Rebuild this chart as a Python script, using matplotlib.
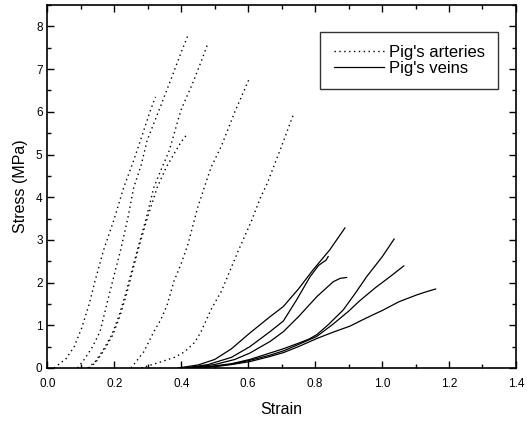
import matplotlib
matplotlib.use("Agg")
import matplotlib.pyplot as plt
from matplotlib.ticker import MultipleLocator

plt.rcParams['font.family'] = ['Liberation Sans', 'DejaVu Sans']

# Pig's arteries (dotted curves)
a1_strain = [0.02, 0.056, 0.08, 0.102, 0.125, 0.142, 0.167, 0.2, 0.228, 0.255, 0.278, 0.308, 0.323]
a1_stress = [0.0, 0.22, 0.5, 0.93, 1.5, 2.03, 2.74, 3.5, 4.23, 4.8, 5.33, 6.04, 6.35]
a2_strain = [0.09, 0.112, 0.135, 0.157, 0.192, 0.218, 0.24, 0.258, 0.28, 0.298, 0.338, 0.374, 0.40, 0.419]
a2_stress = [0.0, 0.22, 0.5, 0.85, 1.95, 2.74, 3.5, 4.23, 4.75, 5.33, 6.13, 6.86, 7.4, 7.77]
a3_strain = [0.12, 0.142, 0.165, 0.192, 0.213, 0.233, 0.268, 0.295, 0.318, 0.34, 0.364, 0.399, 0.434, 0.458, 0.479]
a3_stress = [0.0, 0.14, 0.4, 0.77, 1.2, 1.72, 2.74, 3.5, 4.23, 4.65, 5.09, 6.04, 6.67, 7.15, 7.59]
a4_strain = [0.125, 0.145, 0.168, 0.195, 0.216, 0.236, 0.27, 0.298, 0.328, 0.355, 0.384, 0.40, 0.419]
a4_stress = [0.0, 0.14, 0.4, 0.77, 1.2, 1.72, 2.74, 3.5, 4.23, 4.7, 5.09, 5.3, 5.49]
a5_strain = [0.25, 0.265, 0.288, 0.318, 0.34, 0.358, 0.378, 0.399, 0.42, 0.449, 0.474, 0.489, 0.52, 0.56, 0.604]
a5_stress = [0.0, 0.15, 0.38, 0.85, 1.15, 1.48, 2.03, 2.43, 2.9, 3.76, 4.35, 4.70, 5.2, 6.0, 6.79]
a6_strain = [0.28, 0.338, 0.38, 0.41, 0.44, 0.459, 0.489, 0.52, 0.57, 0.61, 0.635, 0.656, 0.70, 0.736]
a6_stress = [0.0, 0.14, 0.25, 0.38, 0.6, 0.85, 1.37, 1.8, 2.74, 3.45, 3.96, 4.31, 5.2, 5.96]

# Pig's veins (solid curves)
v1_strain = [0.39, 0.45, 0.5, 0.55, 0.605, 0.665, 0.705, 0.75, 0.794, 0.844, 0.889]
v1_stress = [0.0, 0.07, 0.2, 0.45, 0.82, 1.20, 1.44, 1.85, 2.30, 2.77, 3.28]
v2_strain = [0.41, 0.48, 0.55, 0.605, 0.665, 0.705, 0.745, 0.785, 0.81, 0.824, 0.832, 0.839]
v2_stress = [0.0, 0.08, 0.25, 0.5, 0.85, 1.1, 1.6, 2.14, 2.4, 2.48, 2.52, 2.61]
v3_strain = [0.42, 0.5, 0.56, 0.605, 0.665, 0.705, 0.75, 0.805, 0.854, 0.875, 0.894]
v3_stress = [0.0, 0.08, 0.2, 0.35, 0.62, 0.85, 1.2, 1.67, 2.02, 2.1, 2.12]
v4_strain = [0.43, 0.5, 0.55, 0.605, 0.665, 0.705, 0.75, 0.78, 0.805, 0.84, 0.884, 0.92, 0.954, 1.0, 1.036]
v4_stress = [0.0, 0.05, 0.1, 0.2, 0.35, 0.45, 0.58, 0.67, 0.78, 1.02, 1.36, 1.75, 2.14, 2.6, 3.02]
v5_strain = [0.43, 0.5, 0.55, 0.605, 0.665, 0.705, 0.75, 0.805, 0.854, 0.9, 0.934, 0.98, 1.024, 1.05, 1.065]
v5_stress = [0.0, 0.04, 0.09, 0.18, 0.3, 0.4, 0.55, 0.74, 1.03, 1.33, 1.58, 1.88, 2.14, 2.3, 2.39]
v6_strain = [0.43, 0.5, 0.55, 0.605, 0.665, 0.705, 0.75, 0.805, 0.854, 0.904, 0.95, 1.004, 1.05, 1.103, 1.13, 1.16]
v6_stress = [0.0, 0.03, 0.08, 0.15, 0.27, 0.36, 0.5, 0.69, 0.84, 0.98, 1.16, 1.36, 1.55, 1.71, 1.78, 1.85]

arteries = [(a1_strain, a1_stress), (a2_strain, a2_stress), (a3_strain, a3_stress),
            (a4_strain, a4_stress), (a5_strain, a5_stress), (a6_strain, a6_stress)]
veins = [(v1_strain, v1_stress), (v2_strain, v2_stress), (v3_strain, v3_stress),
         (v4_strain, v4_stress), (v5_strain, v5_stress), (v6_strain, v6_stress)]

fig = plt.figure(figsize=(5.27, 4.22), dpi=100)
ax = fig.add_axes([0.090, 0.128, 0.889, 0.860])

dots = (0, (1, 2.5))
for i, (x, y) in enumerate(arteries):
    ax.plot(x, y, color='black', lw=1.0, linestyle=dots,
            label="Pig's arteries" if i == 0 else None)
for i, (x, y) in enumerate(veins):
    ax.plot(x, y, color='black', lw=0.9, linestyle='-',
            label="Pig's veins" if i == 0 else None)

ax.set_xlim(0, 1.4)
ax.set_ylim(0, 8.5)
ax.xaxis.set_major_locator(MultipleLocator(0.2))
ax.xaxis.set_minor_locator(MultipleLocator(0.1))
ax.yaxis.set_major_locator(MultipleLocator(1))
ax.yaxis.set_minor_locator(MultipleLocator(0.5))
ax.xaxis.set_major_formatter(matplotlib.ticker.FormatStrFormatter('%.1f'))
ax.tick_params(which='both', direction='in', top=True, right=True, labelsize=8.5, width=1.0)
ax.tick_params(which='major', length=5)
ax.tick_params(which='minor', length=3)
ax.tick_params(axis='x', pad=7)
for s in ax.spines.values():
    s.set_linewidth(1.2)

ax.set_xlabel('Strain', fontsize=11.5, labelpad=9)
ax.set_ylabel('Stress (MPa)', fontsize=11.5, labelpad=6)

leg = ax.legend(loc='upper right', bbox_to_anchor=(0.962, 0.926), borderaxespad=0,
                fontsize=12, frameon=True, fancybox=False, edgecolor='black',
                handlelength=3.0, handletextpad=0.3, borderpad=0.8, labelspacing=0.05)
leg.get_frame().set_linewidth(1.0)

fig.savefig('out.png', dpi=100)
